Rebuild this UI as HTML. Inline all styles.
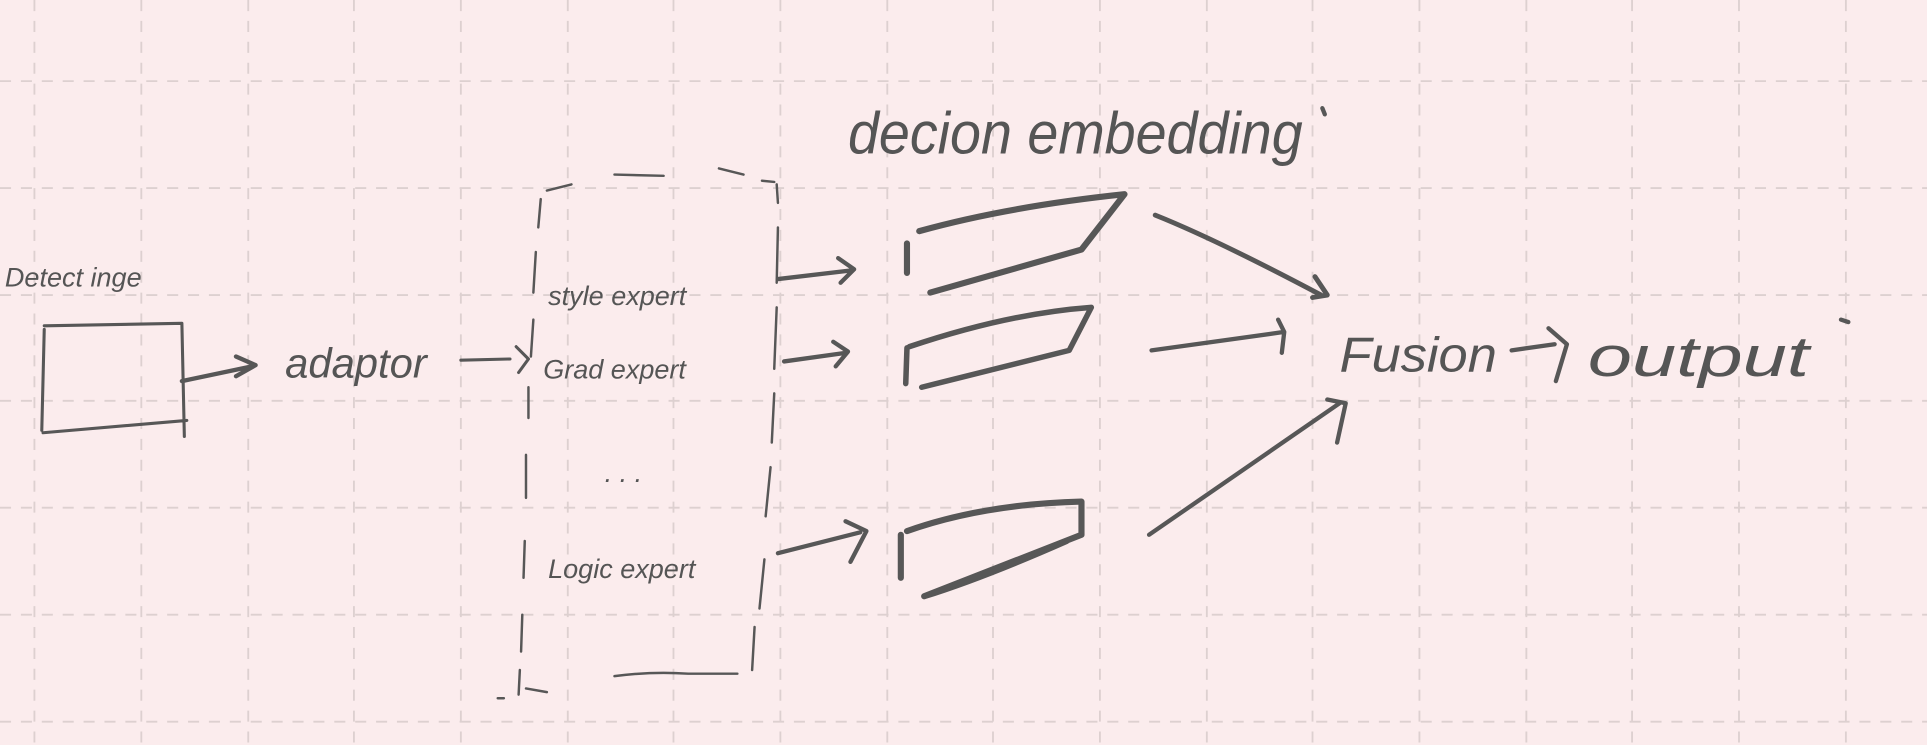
<!DOCTYPE html>
<html><head><meta charset="utf-8"><style>
html,body{margin:0;padding:0;background:#fbeced;}
svg{display:block;}
text{font-family:"Liberation Sans",sans-serif;fill:#555;font-style:italic;}
</style></head><body>
<svg width="1927" height="745" viewBox="0 0 1568 606" preserveAspectRatio="none" xmlns="http://www.w3.org/2000/svg">
<rect width="1568" height="606" fill="#fbeced"/>
<g stroke="#ddd0d0" stroke-width="1.5" stroke-dasharray="9,8" fill="none">
<path d="M28 0V606M115 0V606M202 0V606M288 0V606M375 0V606M462 0V606M548 0V606M635 0V606M722 0V606M808 0V606M895 0V606M982 0V606M1068 0V606M1155 0V606M1242 0V606M1328 0V606M1415 0V606M1502 0V606"/>
<path d="M0 66H1568M0 153H1568M0 240H1568M0 326H1568M0 413H1568M0 500H1568M0 587H1568"/>
</g>
<g stroke="#575757" fill="none" stroke-linecap="round" stroke-linejoin="round">
<path d="M36 265L148 263L150 355M36 268L34 350M35 352L152 342" stroke-width="2.5"/>
<path d="M148 310L205 298M192 290L208 297L192 306" stroke-width="3.5"/>
<path d="M375 293L415 292M420 282L430 292L422 303" stroke-width="2.5"/>
<g stroke-width="2">
<path d="M440 162L438 185M436 205L434 238M434 260L432 290M430 315L430 340M428 370L428 405M427 440L426 470M425 500L424 530M423 545L422 565M410 568L405 568M428 560L445 563M500 550Q530 546 560 548L600 548M612 545L614 510M618 495L622 455M623 420L627 380M628 360L630 320M630 300L632 250M632 230L633 185M633 165L632 150M630 148L620 147M585 137L605 142M500 142L540 143M465 150L445 155"/>
</g>
<path d="M633 227L692 220M682 210L695 219L684 230" stroke-width="3.5"/>
<path d="M638 294L688 287M678 278L690 286L680 298" stroke-width="3.5"/>
<path d="M633 450L700 433M688 424L705 432L692 457" stroke-width="3.5"/>
<path d="M738 198L738 222M748 188Q820 168 915 158L880 203L757 238" stroke-width="5"/>
<path d="M738 283L737 312M740 282Q820 255 888 250L870 285L750 315" stroke-width="4.5"/>
<path d="M733 435L733 470M738 432Q800 410 880 408L880 435L752 485Q800 470 868 440" stroke-width="5"/>
<path d="M940 175Q990 195 1075 240M1070 225L1080 240L1068 242" stroke-width="4"/>
<path d="M937 285L1045 270M1040 260L1045 270L1043 287" stroke-width="3.5"/>
<path d="M935 435L1090 328M1080 325L1095 328L1088 360" stroke-width="3.5"/>
<path d="M1230 285L1265 280M1260 267L1275 280L1266 310" stroke-width="3.5"/>
<path d="M1498 260L1504 262" stroke-width="3.5"/>
<path d="M1076 88L1078 93" stroke-width="3.5"/>
</g>
<text x="4" y="233" font-size="22">Detect inge</text>
<text x="232" y="307" font-size="34">adaptor</text>
<text x="446" y="248" font-size="22">style expert</text>
<text x="442" y="308" font-size="22">Grad expert</text>
<text x="492" y="392" font-size="22">. . .</text>
<text x="446" y="470" font-size="22">Logic expert</text>
<text x="690" y="125" font-size="48" textLength="370" lengthAdjust="spacingAndGlyphs">decion embedding</text>
<text x="1090" y="302" font-size="40" textLength="128" lengthAdjust="spacingAndGlyphs">Fusion</text>
<text x="1292" y="306" font-size="46" textLength="180" lengthAdjust="spacingAndGlyphs">output</text>
</svg>
</body></html>
